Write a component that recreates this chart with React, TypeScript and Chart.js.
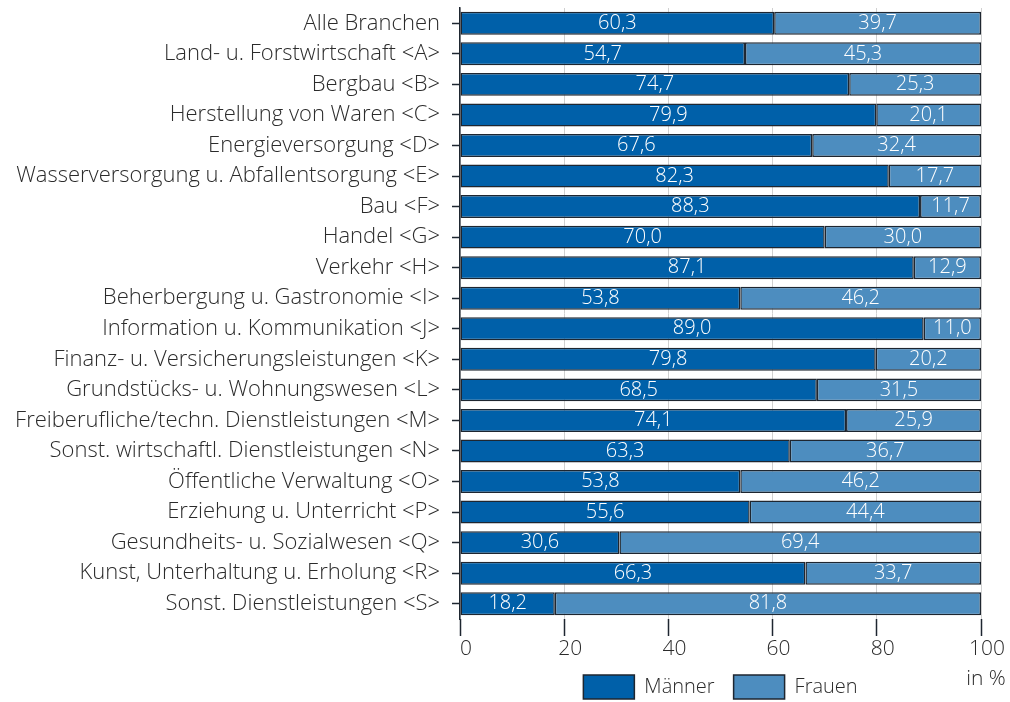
import React, { useEffect, useRef } from "react";
import { Chart, registerables } from "chart.js";

Chart.register(...registerables);

const categories = [
  "Alle Branchen",
  "Land- u. Forstwirtschaft <A>",
  "Bergbau <B>",
  "Herstellung von Waren <C>",
  "Energieversorgung <D>",
  "Wasserversorgung u. Abfallentsorgung <E>",
  "Bau <F>",
  "Handel <G>",
  "Verkehr <H>",
  "Beherbergung u. Gastronomie <I>",
  "Information u. Kommunikation <J>",
  "Finanz- u. Versicherungsleistungen <K>",
  "Grundstücks- u. Wohnungswesen <L>",
  "Freiberufliche/techn. Dienstleistungen <M>",
  "Sonst. wirtschaftl. Dienstleistungen <N>",
  "Öffentliche Verwaltung <O>",
  "Erziehung u. Unterricht <P>",
  "Gesundheits- u. Sozialwesen <Q>",
  "Kunst, Unterhaltung u. Erholung <R>",
  "Sonst. Dienstleistungen <S>",
];

const maenner = [60.3, 54.7, 74.7, 79.9, 67.6, 82.3, 88.3, 70.0, 87.1, 53.8, 89.0, 79.8, 68.5, 74.1, 63.3, 53.8, 55.6, 30.6, 66.3, 18.2];
const frauen = [39.7, 45.3, 25.3, 20.1, 32.4, 17.7, 11.7, 30.0, 12.9, 46.2, 11.0, 20.2, 31.5, 25.9, 36.7, 46.2, 44.4, 69.4, 33.7, 81.8];

const seriesLabels = ["Männer", "Frauen"];
const xTicks = [0, 20, 40, 60, 80, 100];
const unitLabel = "in %";

const FONT = "'Open Sans'";
const TEXT = "#2b2b2b";
const DARK = "#1e2630";

const fmt = (v: number) => v.toFixed(1).replace(".", ",");

const valueLabels = {
  id: "valueLabels",
  afterDatasetsDraw(chart: any) {
    const ctx = chart.ctx;
    ctx.save();
    ctx.font = `300 20px ${FONT}`;
    ctx.fillStyle = "#ffffff";
    ctx.textAlign = "center";
    ctx.textBaseline = "middle";
    chart.data.datasets.forEach((ds: any, di: number) => {
      const meta = chart.getDatasetMeta(di);
      meta.data.forEach((el: any, i: number) => {
        const v = ds.data[i];
        const cx = (el.x + el.base) / 2;
        ctx.fillText(fmt(v), cx, el.y);
      });
    });
    ctx.restore();
  },
};

const unitText = {
  id: "unitText",
  afterDraw(chart: any) {
    const ctx = chart.ctx;
    const area = chart.chartArea;
    ctx.save();
    ctx.font = `300 21px ${FONT}`;
    ctx.fillStyle = TEXT;
    ctx.textAlign = "center";
    ctx.textBaseline = "middle";
    ctx.fillText(unitLabel, area.right + 5, area.bottom + 60);
    ctx.restore();
  },
};

export default function App() {
  const ref = useRef<HTMLCanvasElement | null>(null);

  useEffect(() => {
    if (!ref.current) return;
    const chart = new Chart(ref.current, {
      type: "bar",
      data: {
        labels: categories,
        datasets: [
          {
            label: seriesLabels[0],
            data: maenner,
            backgroundColor: "#0060a9",
            borderColor: DARK,
            borderWidth: 1.5,
            borderSkipped: false,
            barPercentage: 0.75,
            categoryPercentage: 1,
          },
          {
            label: seriesLabels[1],
            data: frauen,
            backgroundColor: "#4d8dbf",
            borderColor: DARK,
            borderWidth: 1.5,
            borderSkipped: false,
            barPercentage: 0.75,
            categoryPercentage: 1,
          },
        ],
      },
      options: {
        indexAxis: "y",
        animation: false,
        responsive: true,
        maintainAspectRatio: false,
        layout: { padding: { left: 0, right: 29, top: 8, bottom: -7 } },
        scales: {
          x: {
            stacked: true,
            min: 0,
            max: 100,
            afterBuildTicks: (scale: any) => {
              scale.ticks = xTicks.map((v) => ({ value: v }));
            },
            afterFit: (scale: any) => {
              scale.height = 37;
            },
            grid: {
              color: "#d0d0d0",
              lineWidth: 1,
              tickColor: DARK,
              tickWidth: 1.5,
              tickLength: 17,
            },
            border: { display: false },
            ticks: {
              color: TEXT,
              padding: 0,
              labelOffset: 6,
              font: { family: FONT, size: 21, weight: "300" },
              maxRotation: 0,
            },
          },
          y: {
            stacked: true,
            afterFit: (scale: any) => {
              scale.width = 460;
              scale.paddingTop = 0;
              scale.paddingBottom = 0;
            },
            grid: {
              offset: false,
              drawOnChartArea: false,
              tickColor: DARK,
              tickWidth: 1.5,
              tickLength: 8,
            },
            border: { display: true, color: DARK, width: 1.5 },
            ticks: {
              color: TEXT,
              padding: 12,
              font: { family: FONT, size: 22, weight: "300" },
              autoSkip: false,
            },
          },
        },
        plugins: {
          legend: {
            position: "bottom",
            fullSize: false,
            labels: {
              color: TEXT,
              boxWidth: 51,
              boxHeight: 24,
              padding: 19,
              font: { family: FONT, size: 20, weight: "300" },
            },
          },
          tooltip: { enabled: false },
        },
      },
      plugins: [valueLabels, unitText],
    });
    return () => chart.destroy();
  }, []);

  return (
    <div style={{ position: "absolute", left: 0, top: 0, width: 1010, height: 702, background: "#fff" }}>
      <canvas ref={ref} />
    </div>
  );
}
